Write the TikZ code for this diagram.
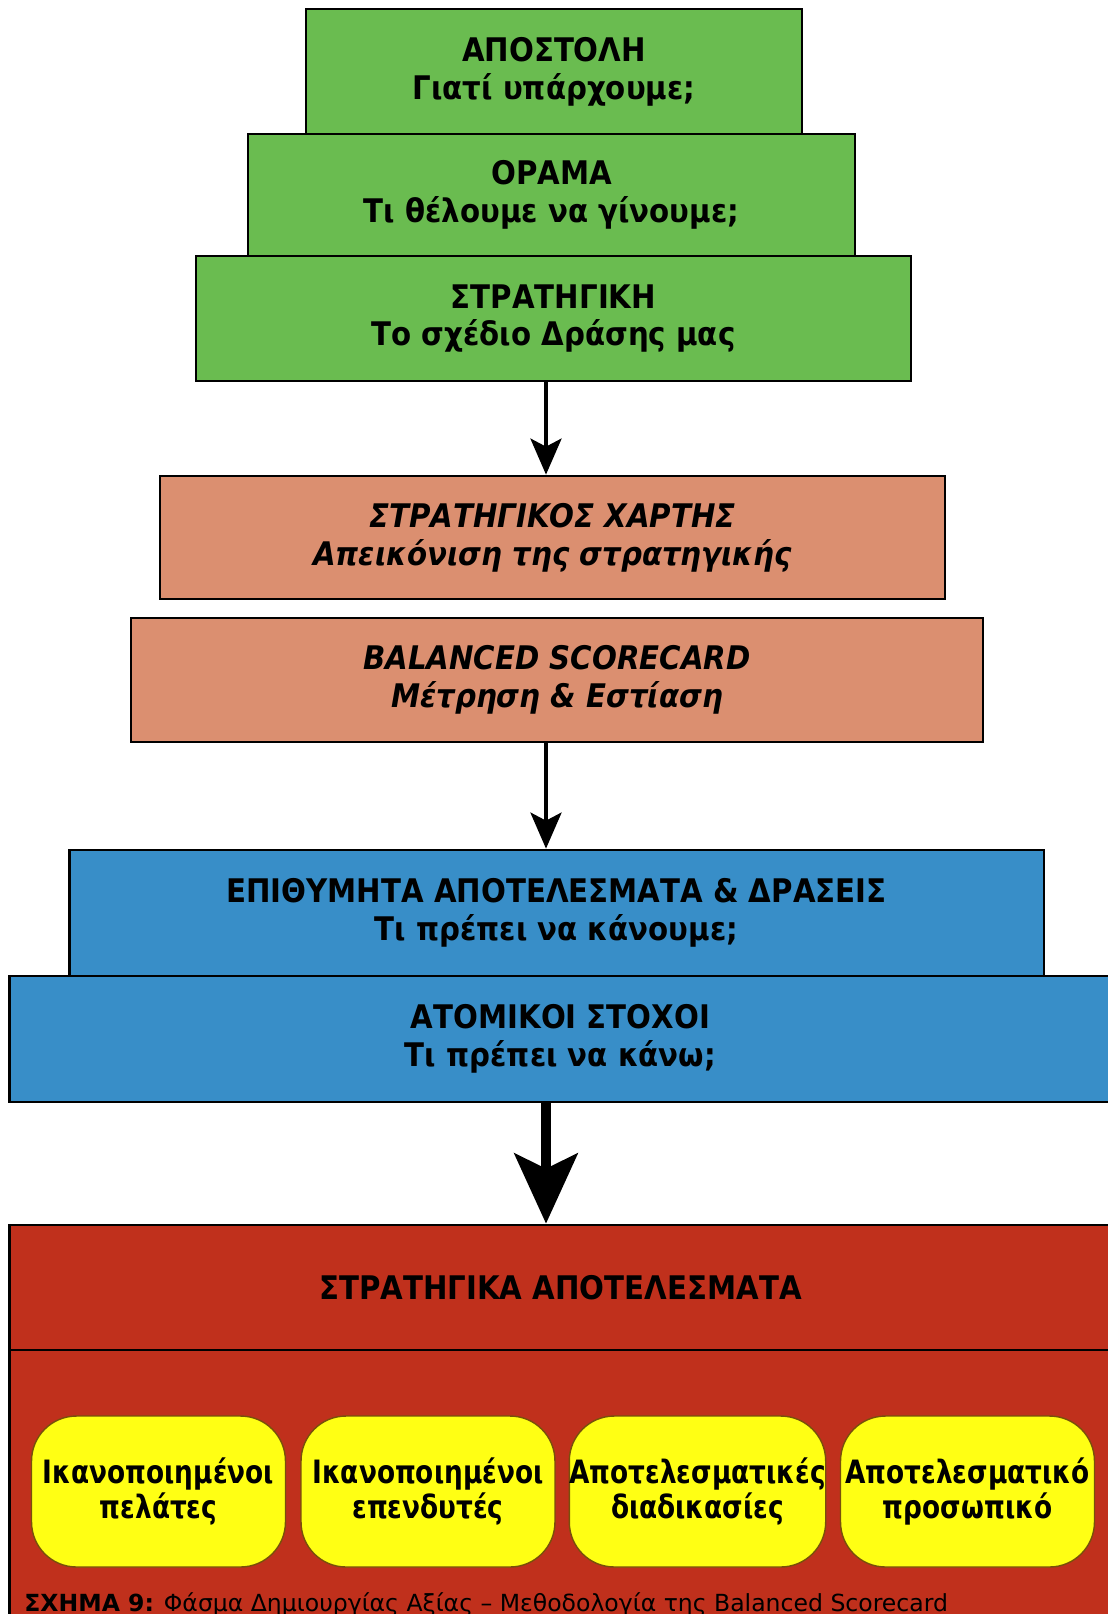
\documentclass[tikz,border=0pt]{standalone}
\usepackage{fontspec}
\setmainfont{DejaVu Sans}[FakeStretch=0.9]
\newfontfamily\goalfont{DejaVu Sans}[FakeStretch=0.82]
\newfontfamily\capfont{DejaVu Sans}
\usetikzlibrary{arrows.meta}
\definecolor{levelgreen}{RGB}{106,188,80}
\definecolor{levelrose}{RGB}{219,143,112}
\definecolor{levelblue}{RGB}{56,142,200}
\definecolor{levelred}{RGB}{192,48,28}
\definecolor{goalyellow}{RGB}{255,255,20}
\definecolor{goaledge}{RGB}{120,80,10}
\begin{document}
\begin{tikzpicture}[x=0.02cm, y=-0.02cm]
\useasboundingbox (0,0) rectangle (1108,1614);
\tikzstyle{every node} = [rectangle, draw, line width=1.6pt, inner sep=0pt, align=center, font=\bfseries\fontsize{18.5}{21.5}\selectfont]
\tikzstyle{greenbox} = [fill=levelgreen]
\tikzstyle{rosebox} = [fill=levelrose, font=\bfseries\itshape\fontsize{18.5}{21.5}\selectfont]
\tikzstyle{bluebox} = [fill=levelblue]
\tikzstyle{redbox} = [fill=levelred, minimum width=22.06cm]
\tikzstyle{goal} = [fill=goalyellow, draw=goaledge, line width=0.8pt, rounded corners=0.9cm, minimum width=5.08cm, minimum height=3.02cm, font=\goalfont\bfseries\fontsize{18.3}{19.5}\selectfont]
\tikzstyle{flow} = [-{Stealth[length=0.72cm, width=0.62cm, inset=0.16cm]}, line width=2.3pt]
\tikzstyle{bigflow} = [-{Stealth[length=1.4cm, width=1.26cm, inset=0.3cm]}, line width=5.7pt]
% mission, vision, strategy
\node[greenbox, minimum width=9.92cm, minimum height=2.5cm] (mission) at (554, 71.5) {ΑΠΟΣΤΟΛΗ\\Γιατί υπάρχουμε;};
\node[greenbox, minimum width=12.14cm, minimum height=2.44cm] (vision) at (551.5, 195) {ΟΡΑΜΑ\\Τι θέλουμε να γίνουμε;};
\node[greenbox, minimum width=14.3cm, minimum height=2.5cm] (strategy) at (553.5, 318.5) {ΣΤΡΑΤΗΓΙΚΗ\\Το σχέδιο Δράσης μας};
% map and scorecard
\node[rosebox, minimum width=15.7cm, minimum height=2.46cm] (map) at (552.5, 537.5) {ΣΤΡΑΤΗΓΙΚΟΣ ΧΑΡΤΗΣ\\Απεικόνιση της στρατηγικής};
\node[rosebox, minimum width=17.04cm, minimum height=2.48cm] (scorecard) at (557, 680) {BALANCED SCORECARD\\Μέτρηση \& Εστίαση};
% actions and targets
\node[bluebox, minimum width=19.5cm, minimum height=2.52cm] (desired) at (556.5, 913) {ΕΠΙΘΥΜΗΤΑ ΑΠΟΤΕΛΕΣΜΑΤΑ \& ΔΡΑΣΕΙΣ\\Τι πρέπει να κάνουμε;};
\node[bluebox, minimum width=22.06cm, minimum height=2.52cm] (mine) at (560.5, 1039) {ΑΤΟΜΙΚΟΙ ΣΤΟΧΟΙ\\Τι πρέπει να κάνω;};
% strategic results
\node[redbox, minimum height=2.5cm] (outcomes) at (560.5, 1287.5) {ΣΤΡΑΤΗΓΙΚΑ ΑΠΟΤΕΛΕΣΜΑΤΑ};
\node[redbox, minimum height=5.4cm] (results) at (560.5, 1485) {};
\node[goal] (clients) at (158.5, 1491.5) {Ικανοποιημένοι\\πελάτες};
\node[goal] (investors) at (428, 1491.5) {Ικανοποιημένοι\\επενδυτές};
\node[goal] (processes) at (697.5, 1491.5) {Αποτελεσματικές\\διαδικασίες};
\node[goal] (staff) at (967.5, 1491.5) {Αποτελεσματικό\\προσωπικό};
\node[draw=none, anchor=base west, font=\capfont\fontsize{13.4}{15}\selectfont] (caption) at (23, 1611) {\textbf{ΣΧΗΜΑ 9:} Φάσμα Δημιουργίας Αξίας – Μεθοδολογία της Balanced Scorecard};
\foreach \from/\to/\dx in {strategy/map/-0.15cm, scorecard/desired/-0.22cm}
\draw [flow] ([xshift=\dx]\from.south) -- ([xshift=\dx]\from.south |- \to.north);
\draw [bigflow] ([xshift=-0.29cm]mine.south) -- ([xshift=-0.29cm]mine.south |- outcomes.north);
\end{tikzpicture}
\end{document}
